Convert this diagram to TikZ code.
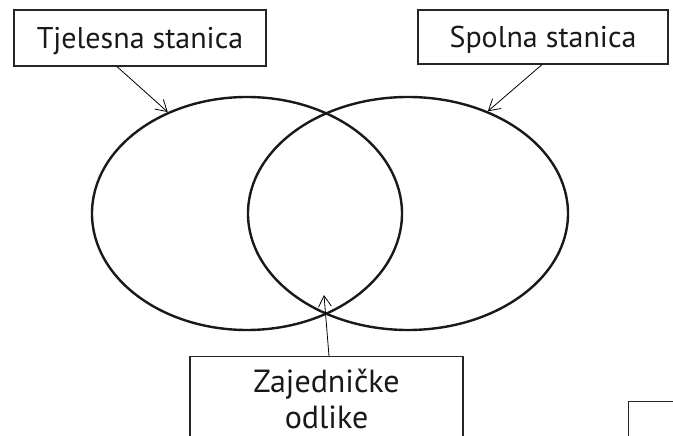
\documentclass[tikz,border=0pt]{standalone}
\usepackage{fontspec}
\setmainfont{PT Sans}
\usetikzlibrary{arrows.meta, positioning, shapes.geometric}

\begin{document}
\begin{tikzpicture}[x=1pt, y=-1pt,
        labelbox/.style={rectangle, draw=black!85, line width=1.2pt, inner sep=0pt, text=black!90, font=\fontsize{30}{36}\selectfont},
        cell/.style={ellipse, draw=black!90, line width=2.4pt, inner sep=0pt},
        pointer/.style={-{Straight Barb[length=11pt, width=13pt]}, line width=0.8pt}
    ]
    \useasboundingbox (0,0) rectangle (673,436);
    \clip (0,0) rectangle (673,436);
    \node[cell, minimum width=310pt, minimum height=233pt] (body) at (247,213.5) {};
    \node[cell, minimum width=320pt, minimum height=233pt] (germ) at (408,213.5) {};
    \node[labelbox, minimum width=252pt, minimum height=56pt, text height=21pt, text depth=0pt] (bodylabel) at (140,38) {Tjelesna stanica};
    \node[labelbox, minimum width=250pt, minimum height=54pt, text height=21pt, text depth=0pt] (germlabel) at (543,37) {Spolna stanica};
    \node[labelbox, anchor=north, align=center, text width=273pt, inner ysep=12pt, text depth=100pt, font=\fontsize{32}{36}\selectfont] (common) at (326.5,356) {Zajedničke\\odlike};
    \node[labelbox, anchor=north west, minimum width=100pt, minimum height=100pt] (corner) at (628,401) {};
    \coordinate (overlap) at (324,295);
    \draw[pointer] ([xshift=-23pt]bodylabel.south) -- (body.128);
    \draw[pointer] ([xshift=-1pt]germlabel.south) -- (germ.52);
    \draw[pointer] ([xshift=2.5pt]common.north) -- (overlap);
\end{tikzpicture}
\end{document}
